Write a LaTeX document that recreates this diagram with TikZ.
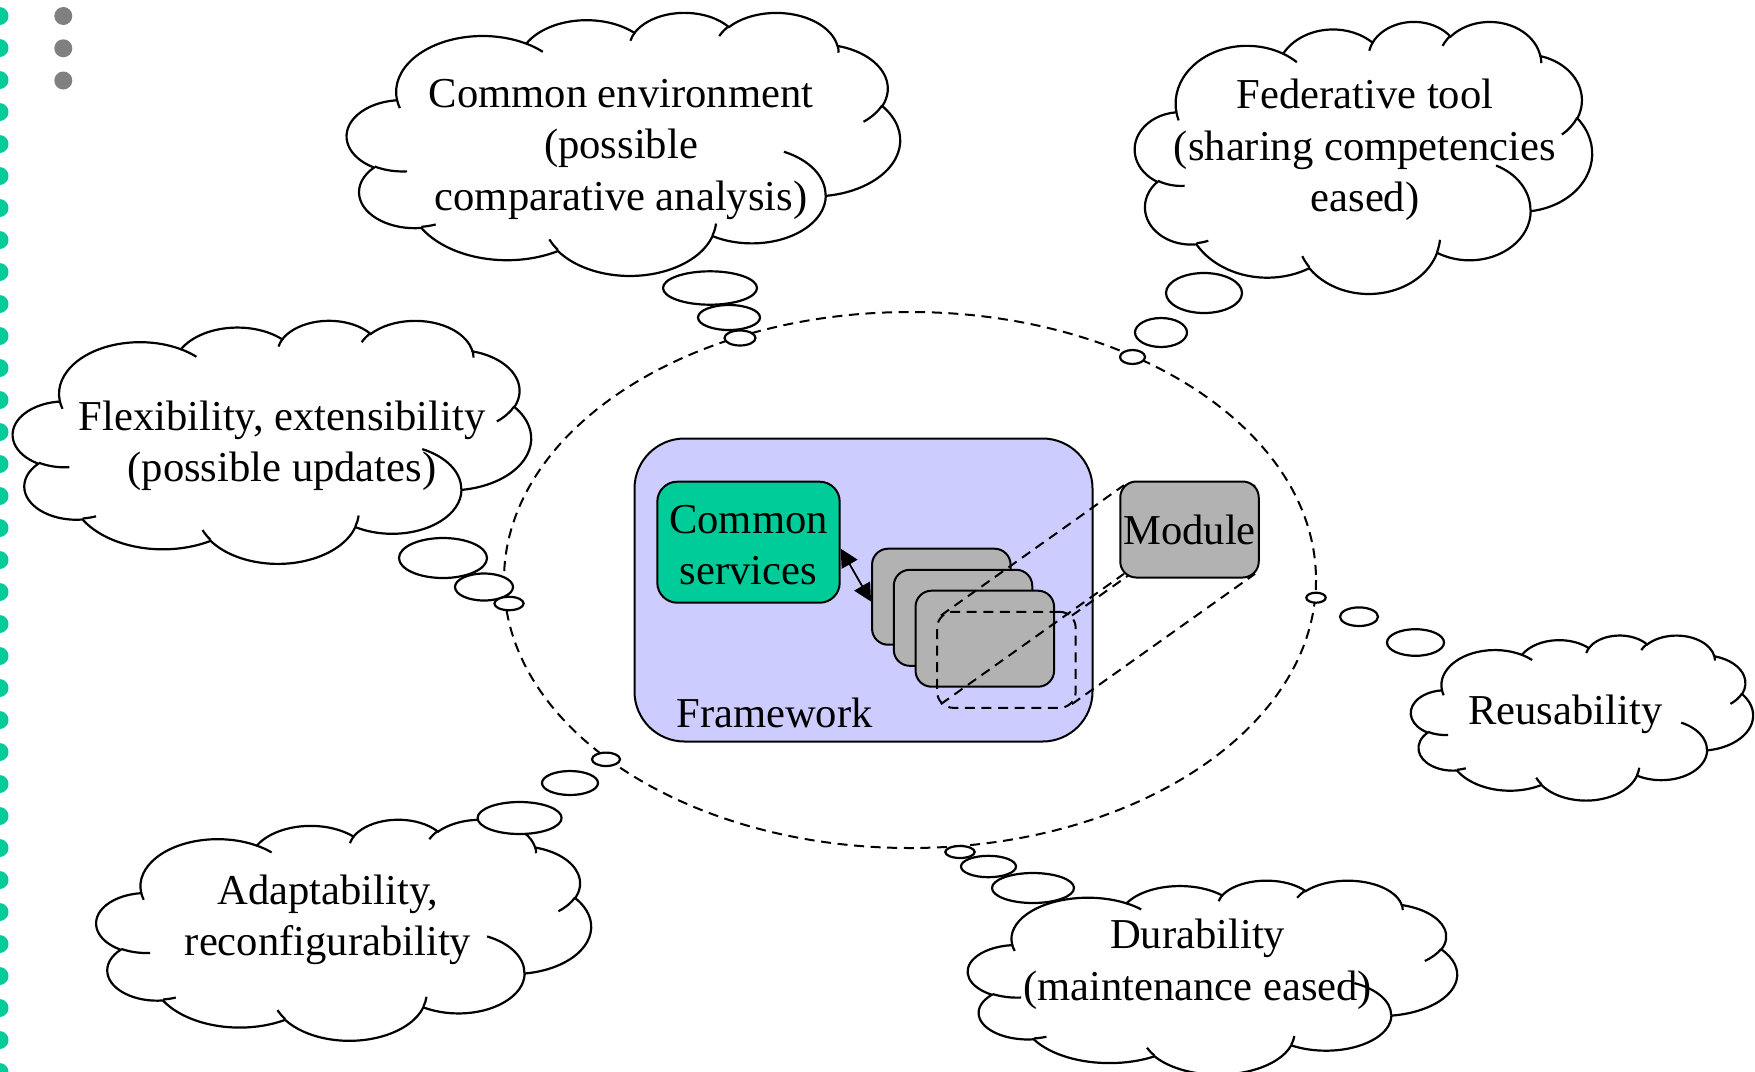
\documentclass[tikz,border=0pt]{standalone}
\usepackage{fontspec}
\setmainfont{Liberation Serif}
\usetikzlibrary{arrows.meta}

\definecolor{panegray}{RGB}{178,178,178}
\definecolor{framefill}{RGB}{204,204,255}
\definecolor{servgreen}{RGB}{0,204,153}
\definecolor{dotgray}{RGB}{128,128,128}

\pgfdeclarelayer{front}
\pgfsetlayers{main,front}

% Elliptical arc in the style of DrawingML arcTo: radii in units of the
% 43.2 x 43.2 cloud grid, start and sweep as visual angles in degrees.
\newcommand\ooprep[5]{%
  \pgfmathsetmacro\ooT{atan2(#2*sin(#4),#3*cos(#4))}%
  \pgfmathsetmacro\ooU{atan2(#2*sin((#4)+(#5)),#3*cos((#4)+(#5)))}%
  \pgfmathsetmacro\ooD{mod(\ooU-\ooT+720,360)}%
  \xdef#1{arc[start angle=\ooT,delta angle=\ooD,x radius=#2,y radius=#3]}%
}
% outline of the cloud
\ooprep\cldA{6.753}{9.190}{-190.48748}{123.78053}
\ooprep\cldB{5.333}{7.267}{-144.10238}{89.94523}
\ooprep\cldC{4.365}{5.945}{-145.80792}{99.72302}
\ooprep\cldD{4.857}{6.595}{-130.98607}{117.24173}
\ooprep\cldE{5.333}{7.273}{-78.70888}{109.02692}
\ooprep\cldF{6.775}{9.220}{-46.26725}{130.26900}
\ooprep\cldG{5.785}{7.867}{0.62502}{114.03333}
\ooprep\cldH{6.752}{9.215}{22.45160}{115.17255}
\ooprep\cldI{7.720}{10.543}{66.24263}{75.71102}
\ooprep\cldJ{4.360}{5.918}{-274.94208}{146.73557}
\ooprep\cldK{4.345}{5.945}{-246.82850}{152.51885}
% small inner strokes of the cloud
\ooprep\cliA{4.345}{5.945}{86.74200}{26.42950}
\ooprep\cliB{4.360}{5.918}{73.61047}{11.44747}
\ooprep\cliC{6.752}{9.215}{137.62415}{14.08110}
\ooprep\cliD{6.752}{9.215}{6.45327}{15.99835}
\ooprep\cliE{5.785}{7.867}{-70.29235}{70.91737}
\ooprep\cliF{5.333}{7.273}{30.31803}{27.75150}
\ooprep\cliG{4.857}{6.595}{-13.74433}{14.85890}
\ooprep\cliH{4.857}{6.595}{-149.18145}{18.19537}
\ooprep\cliI{4.365}{5.945}{-163.49427}{17.68635}
\ooprep\cliJ{6.753}{9.190}{-66.70695}{12.31935}
\ooprep\cliK{6.753}{9.190}{157.65435}{11.85817}

% thought cloud filling the box: left, top, width, height
\newcommand\thoughtcloud[4]{%
  \begin{scope}[shift={(#1,#2)},xscale=#3/43.2,yscale=#4/43.2]
    \draw[cloudline,fill=white] (3.9,14.37)
      \cldA\cldB\cldC\cldD\cldE\cldF\cldG\cldH\cldI\cldJ\cldK -- cycle;
    \draw[cloudline]
      (4.693,26.177) \cliA (6.928,34.899) \cliB (16.478,39.090) \cliC
      (28.827,34.751) \cliD (34.129,22.954) \cliE (41.798,15.354) \cliF
      (38.324,5.426) \cliG (29.078,3.952) \cliH (22.141,4.720) \cliI
      (14.000,5.192) \cliJ (4.127,15.789) \cliK;
  \end{scope}}
% one bubble of a cloud's tail
\newcommand\bubble[4]{%
  \draw[cloudline,fill=white] (#1,#2) ellipse [x radius=#3,y radius=#4];}

\begin{document}
\begin{tikzpicture}[x=0.5pt,y=-0.5pt,
  cloudline/.style={line width=1.1pt,draw=black},
  txt/.style={font=\fontsize{21.3}{25.75}\selectfont,align=center,inner sep=0pt},
  pane/.style={draw=black,line width=1pt,fill=panegray,rounded corners=8pt,
    minimum width=69.25pt,minimum height=48pt,inner sep=0pt},
  dashline/.style={line width=1pt,dash pattern=on 5pt off 3.3pt}]
\useasboundingbox (0,0) rectangle (1755,1071);

% slide decoration: green dotted border and grey bullets
\foreach \k in {0,...,33}
  \fill[servgreen] (-0.5,16+32*\k) circle [radius=9];
\foreach \yy in {16,48.3,80.5}
  \fill[dotgray] (63.3,\yy) circle [radius=9];

% dashed scope around the framework
\draw[dashline] (910,580) ellipse [x radius=406,y radius=268];

% framework with its common services and modules
\node[draw=black,line width=1pt,fill=framefill,rounded corners=25pt,
  minimum width=229pt,minimum height=151.5pt,inner sep=0pt]
  (framework) at (863.5,590) {};
\node[txt] (fwlabel) at (774.5,713) {Framework};
\node[draw=black,line width=1pt,fill=servgreen,rounded corners=10pt,
  minimum width=91.2pt,minimum height=60.5pt,inner sep=0pt]
  (services) at (748.5,542.2) {};
\node[txt] (servtext) at (748.5,545) {Common\\services};
\node[pane] (box1) at (941.3,596.7) {};
\node[pane] (box2) at (963,617.8) {};
\node[pane] (box3) at (984.8,638.7) {};
\node[draw=black,dashline,rounded corners=8pt,minimum width=69.25pt,
  minimum height=48pt,inner sep=0pt] (ghost) at (1006.4,659.8) {};
\draw[line width=0.9pt,{Triangle[length=9pt,width=9pt]}-{Triangle[length=9pt,width=9pt]}]
  (services.-4) -- (box1.184);

\begin{pgfonlayer}{front}
  \node[pane,txt] (module) at (1189.5,529.5) {Module};
\end{pgfonlayer}
\foreach \c/\dx/\dy in {north west/4.7/4.7,north east/-4.7/4.7,
                        south west/4.7/-4.7,south east/-4.7/-4.7}
  \draw[dashline] ([shift={(\dx,\dy)}]ghost.\c) -- ([shift={(\dx,\dy)}]module.\c);

% thought clouds
\thoughtcloud{347}{12}{553}{263}
\bubble{710}{288}{47}{16.7}
\bubble{729}{317.5}{31}{12.5}
\bubble{740}{338}{15.5}{7.5}
\node[txt] (envtext) at (621,149) {Common environment\\(possible\\comparative analysis)};

\thoughtcloud{1135}{21}{457}{272}
\bubble{1204}{293}{38}{20}
\bubble{1161}{332.5}{26}{14.5}
\bubble{1132.5}{357}{12.5}{7}
\node[txt] (fedtext) at (1365,150) {Federative tool\\(sharing competencies\\eased)};

\thoughtcloud{13}{320}{518}{243}
\bubble{443}{558}{44}{20}
\bubble{484}{587}{29}{13.5}
\bubble{509}{603.5}{14.6}{6.7}
\node[txt] (flextext) at (282,445.5) {Flexibility, extensibility\\(possible updates)};

\thoughtcloud{1411}{635}{342}{165}
\bubble{1316}{597.7}{9.7}{5}
\bubble{1359}{616.7}{19}{9.3}
\bubble{1415.5}{642.5}{28.5}{13.3}
\node[txt] (reusetext) at (1565.3,714) {Reusability};

\thoughtcloud{96.5}{819}{494.5}{221}
\bubble{519.6}{818}{42}{16}
\bubble{570}{783}{28}{12}
\bubble{606}{759.3}{14}{6.7}
\node[txt] (adapttext) at (328,920) {Adaptability,\\reconfigurability};

\thoughtcloud{968}{880}{489}{194}
\bubble{960}{852}{14.7}{6}
\bubble{988.5}{866.5}{27.5}{10.7}
\bubble{1033}{888}{41}{15}
\node[txt] (durtext) at (1197.6,964) {Durability\\(maintenance eased)};
\end{tikzpicture}
\end{document}
